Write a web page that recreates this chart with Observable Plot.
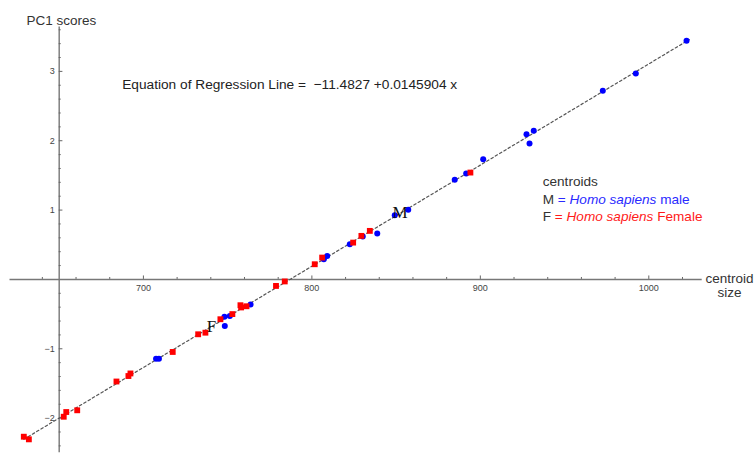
<!DOCTYPE html>
<html><head><meta charset="utf-8">
<script src="https://cdn.jsdelivr.net/npm/d3@7"></script>
<script src="https://cdn.jsdelivr.net/npm/@observablehq/plot@0.6"></script>
<style>body{margin:0;background:#fff} #chart svg{display:block}</style>
</head><body><div id="chart"></div>
<script>
// Female specimens (red squares)
const femaleX = [629.0, 632.0, 652.7, 654.2, 660.7, 684.0, 691.1, 692.3, 717.4, 732.5, 736.8, 745.7, 752.8, 757.6, 758.0, 761.2, 778.7, 783.9, 801.7, 806.1, 824.5, 829.4, 834.4, 894.1];
const femaleY = [-2.268, -2.306, -1.980, -1.912, -1.887, -1.472, -1.393, -1.356, -1.046, -0.791, -0.768, -0.574, -0.500, -0.372, -0.404, -0.387, -0.094, -0.029, 0.219, 0.315, 0.531, 0.628, 0.700, 1.541];
// Male specimens (blue dots)
const maleX = [707.5, 709.2, 748.1, 748.3, 751.3, 763.6, 807.1, 809.1, 822.5, 830.2, 838.8, 849.2, 857.2, 884.8, 891.6, 901.7, 927.4, 929.2, 931.7, 972.7, 992.3, 1022.4];
const maleY = [-1.143, -1.143, -0.537, -0.671, -0.527, -0.361, 0.291, 0.339, 0.508, 0.618, 0.661, 0.926, 1.003, 1.436, 1.527, 1.734, 2.095, 1.960, 2.143, 2.720, 2.970, 3.442];
// Centroids
const centroidLabel = ["F", "M"];
const centroidX = [740.4, 852.3];
const centroidY = [-0.68, 0.96];
// Regression line
const intercept = -11.4827, slope = 0.0145904;
const lineX = [629, 1024];
// Ticks
const xMajor = [700, 800, 900, 1000];
const xMinor = [640, 660, 680, 720, 740, 760, 780, 820, 840, 860, 880, 920, 940, 960, 980, 1020];
const yMajor = [-2, -1, 1, 2, 3];
const yMajorLabel = ["\u22122", "\u22121", "1", "2", "3"];
const yMinor = [-2.4, -2.2, -1.8, -1.6, -1.4, -1.2, -0.8, -0.6, -0.4, -0.2, 0.2, 0.4, 0.6, 0.8, 1.2, 1.4, 1.6, 1.8, 2.2, 2.4, 2.6, 2.8, 3.2, 3.4, 3.6];

const female = femaleX.map((x, i) => ({x, y: femaleY[i]}));
const male = maleX.map((x, i) => ({x, y: maleY[i]}));
const centroids = centroidLabel.map((t, i) => ({t, x: centroidX[i], y: centroidY[i]}));
const line = lineX.map(x => ({x, y: intercept + slope * x}));

const FONT = "'Liberation Sans', Arial, sans-serif";
const axisColor = "#777";
const X0 = 650, Y0 = 0;

const plot = Plot.plot({
  width: 755, height: 455,
  marginLeft: 9.5, marginRight: 53.3, marginTop: 26.5, marginBottom: 2.7,
  x: {domain: [620.8, 1031.7], axis: null},
  y: {domain: [-2.5, 3.64], axis: null},
  style: {fontFamily: FONT, background: "#fff"},
  marks: [
    Plot.ruleY([Y0], {stroke: axisColor, strokeWidth: 1.4}),
    Plot.ruleX([X0], {stroke: axisColor, strokeWidth: 1.4}),
    Plot.ruleX(xMajor, {x: d => d, y1: 0, y2: 0.05, stroke: "#666", strokeWidth: 1}),
    Plot.ruleX(xMinor, {x: d => d, y1: 0, y2: 0.028, stroke: "#666", strokeWidth: 1}),
    Plot.ruleY(yMajor, {y: d => d, x1: X0, x2: X0 + 2.2, stroke: "#666", strokeWidth: 1}),
    Plot.ruleY(yMinor, {y: d => d, x1: X0, x2: X0 + 1.2, stroke: "#666", strokeWidth: 1}),
    Plot.text(xMajor, {x: d => d, y: 0, text: d => String(d), dy: 9, fontSize: 9, fill: "#444"}),
    Plot.text(yMajor, {x: X0, y: d => d, text: (d, i) => yMajorLabel[i], dx: -4.5, textAnchor: "end", fontSize: 9, fill: "#444"}),
    Plot.line(line, {x: "x", y: "y", stroke: "#555", strokeWidth: 1.2, strokeDasharray: "2.5,2.5"}),
    Plot.dot(male, {x: "x", y: "y", r: 3, fill: "#0000ff", stroke: "none"}),
    Plot.dot(female, {x: "x", y: "y", r: 3.3, symbol: "square", fill: "#ff0000", stroke: "none"}),
    Plot.text(centroids, {x: "x", y: "y", text: "t", fontSize: 17, fontFamily: "'Liberation Serif', 'Times New Roman', serif", fill: "#111"}),
    Plot.text(["PC1 scores"], {frameAnchor: "top-left", dx: 16.5, dy: -11.5, textAnchor: "start", fontSize: 13.5, fill: "#333"}),
    Plot.text(["Equation of Regression Line =  \u221211.4827 +0.0145904 x"], {frameAnchor: "top-left", dx: 112.2, dy: 52.5, textAnchor: "start", fontSize: 13.7, fill: "#222"}),
    Plot.text(["centroid"], {frameAnchor: "top-right", dx: 27.3, dy: 246.5, textAnchor: "middle", fontSize: 13.5, fill: "#333"}),
    Plot.text(["size"], {frameAnchor: "top-right", dx: 27.3, dy: 260.5, textAnchor: "middle", fontSize: 13.5, fill: "#333"})
  ]
});
document.getElementById("chart").appendChild(plot);

// Legend with mixed styles
const blue = "#2a2aff", red = "#ff1a1a";
const g = d3.select(plot).append("g")
  .attr("font-family", FONT).attr("font-size", 13.6).attr("text-anchor", "start");
g.append("text").attr("x", 542.7).attr("y", 181.7).attr("dy", "0.35em").attr("fill", "#333").text("centroids");
const rows = [
  {y: 199.3, letter: "M", color: blue, sex: "male"},
  {y: 216.5, letter: "F", color: red, sex: "Female"}
];
for (const r of rows) {
  const t = g.append("text").attr("x", 542.7).attr("y", r.y).attr("dy", "0.35em");
  t.append("tspan").attr("fill", "#333").text(r.letter + " ");
  t.append("tspan").attr("fill", r.color).text("= ");
  t.append("tspan").attr("fill", r.color).attr("font-style", "italic").text("Homo sapiens");
  t.append("tspan").attr("fill", r.color).text(" " + r.sex);
}
</script>
</body></html>
